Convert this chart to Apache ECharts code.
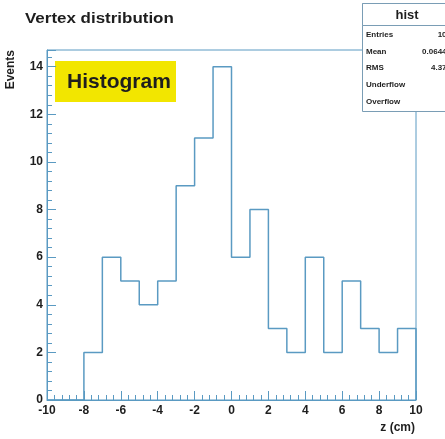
<!DOCTYPE html>
<html>
<head>
<meta charset="utf-8">
<script src="https://cdn.jsdelivr.net/npm/echarts@6/dist/echarts.min.js"></script>
<style>
html,body{margin:0;padding:0;background:#fff;}
#chart{width:445px;height:439px;}
</style>
</head>
<body>
<div id="chart"></div>
<script>
// Bin lower edges (z in cm) and event counts per bin
const binLeft = [-10,-9,-8,-7,-6,-5,-4,-3,-2,-1,0,1,2,3,4,5,6,7,8,9];
const binRight = 10;
const counts = [0,0,2,6,5,4,5,9,11,14,6,8,3,2,6,2,5,3,2,3];
const xTicks = [-10,-8,-6,-4,-2,0,2,4,6,8,10];
const yTicks = [0,2,4,6,8,10,12,14];
const statNames = ['Entries','Mean','RMS','Underflow','Overflow'];
const statValues = ['100','0.06446','4.376','2','2'];

const BLUE = '#5a9ac2';
const TXT = '#1e1e1e';
const FONT = 'Liberation Sans, Arial, Helvetica, sans-serif';

const stepData = counts.map((c,i)=>[binLeft[i], c]);
stepData.push([binRight, counts[counts.length-1]]);
stepData.push([binRight, 0]);

const chart = echarts.init(document.getElementById('chart'), null, {renderer:'canvas'});

const graphics = [];
// title
graphics.push({type:'text', x:25, y:19, scaleX:1.13, style:{text:'Vertex distribution', font:'bold 15px '+FONT, fill:TXT, textVerticalAlign:'middle'}});
// Histogram label box
graphics.push({type:'rect', shape:{x:55, y:61, width:121, height:41}, style:{fill:'#f2e600', stroke:null}});
graphics.push({type:'text', x:67, y:82, style:{text:'Histogram', font:'bold 21px '+FONT, fill:TXT, textVerticalAlign:'middle'}});
// axis titles
graphics.push({type:'text', x:11, y:50, rotation:Math.PI/2, style:{text:'Events', font:'bold 12px '+FONT, fill:TXT, textAlign:'right', textVerticalAlign:'middle'}});
graphics.push({type:'text', x:415, y:428, style:{text:'z (cm)', font:'bold 12px '+FONT, fill:TXT, textAlign:'right', textVerticalAlign:'middle'}});
// stats box
graphics.push({type:'rect', shape:{x:362.5, y:3.5, width:100, height:108}, style:{fill:'#fff', stroke:'#7a9db5', lineWidth:1}, z:10});
graphics.push({type:'rect', shape:{x:362.5, y:3.5, width:100, height:22}, style:{fill:'#fff', stroke:'#7a9db5', lineWidth:1}, z:10});
graphics.push({type:'text', x:407, y:15, style:{text:'hist', font:'bold 13px '+FONT, fill:TXT, textAlign:'center', textVerticalAlign:'middle'}, z:11});
const rowY = [35, 52, 68, 85, 102];
statNames.forEach((n,i)=>{
  graphics.push({type:'text', x:366, y:rowY[i], style:{text:n, font:'bold 8px '+FONT, fill:TXT, textVerticalAlign:'middle'}, z:11});
  graphics.push({type:'text', x:451, y:rowY[i], style:{text:statValues[i], font:'bold 8px '+FONT, fill:TXT, textAlign:'right', textVerticalAlign:'middle'}, z:11});
});

const labelStyle = {color:TXT, fontWeight:'bold', fontSize:12, fontFamily:FONT};

chart.setOption({
  animation:false,
  backgroundColor:'#fff',
  grid:{left:47, right:29, top:50, bottom:39, show:true, borderColor:BLUE, borderWidth:1, backgroundColor:'#fff'},
  xAxis:{
    type:'value', min:xTicks[0], max:xTicks[xTicks.length-1], interval:2,
    axisLine:{onZero:false, lineStyle:{color:BLUE, width:1}},
    axisTick:{inside:true, length:9, lineStyle:{color:BLUE}},
    minorTick:{show:true, splitNumber:5, length:5, lineStyle:{color:BLUE}},
    splitLine:{show:false},
    axisLabel:Object.assign({margin:5, formatter:v=>xTicks.includes(v)?String(v):''}, labelStyle)
  },
  yAxis:{
    type:'value', min:0, max:14.7, interval:2,
    axisLine:{show:true, onZero:false, lineStyle:{color:BLUE, width:1}},
    axisTick:{inside:true, length:9, lineStyle:{color:BLUE}},
    minorTick:{show:true, splitNumber:5, length:5, lineStyle:{color:BLUE}},
    splitLine:{show:false},
    axisLabel:Object.assign({margin:4, formatter:v=>yTicks.includes(v)?String(v):''}, labelStyle)
  },
  series:[{
    type:'line', step:'end', data:stepData, symbol:'none',
    lineStyle:{color:BLUE, width:1.5}, z:3
  }],
  graphic:graphics
});
</script>
</body>
</html>
